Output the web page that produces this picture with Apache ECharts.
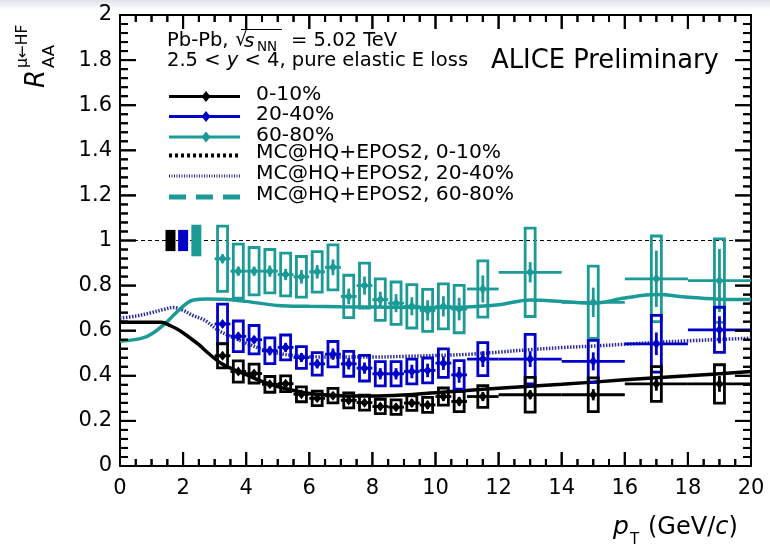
<!DOCTYPE html>
<html><head><meta charset="utf-8">
<script src="https://cdn.jsdelivr.net/npm/echarts@6/dist/echarts.min.js"></script>
<style>html,body{margin:0;padding:0;background:#fff}#c{width:770px;height:548px}</style>
</head><body><div id="c"></div>
<script>
// ---------------- data ----------------
const ptBins      = [3.25,3.75,4.25,4.75,5.25,5.75,6.25,6.75,7.25,7.75,8.25,8.75,9.25,9.75,10.25,10.75,11.5,13,15,17,19];
const ptHalfWidth = [0.25,0.25,0.25,0.25,0.25,0.25,0.25,0.25,0.25,0.25,0.25,0.25,0.25,0.25,0.25,0.25,0.5,1,1,1,1];

const raa0_10  = [0.489,0.419,0.410,0.362,0.365,0.318,0.300,0.312,0.291,0.281,0.264,0.261,0.279,0.271,0.308,0.286,0.308,0.316,0.316,0.364,0.364];
const sys0_10  = [0.054,0.047,0.042,0.035,0.035,0.033,0.032,0.032,0.033,0.033,0.032,0.032,0.032,0.033,0.038,0.045,0.048,0.077,0.075,0.077,0.085];
const stat0_10 = [0.012,0.010,0.010,0.010,0.012,0.012,0.012,0.015,0.015,0.015,0.015,0.015,0.018,0.018,0.020,0.020,0.020,0.020,0.025,0.030,0.035];

const raa20_40  = [0.630,0.575,0.560,0.511,0.526,0.481,0.453,0.496,0.453,0.434,0.409,0.409,0.419,0.424,0.456,0.404,0.474,0.474,0.464,0.542,0.604];
const sys20_40  = [0.088,0.068,0.063,0.057,0.055,0.048,0.050,0.056,0.055,0.057,0.054,0.054,0.055,0.055,0.063,0.063,0.073,0.110,0.093,0.126,0.100];
const stat20_40 = [0.015,0.015,0.015,0.020,0.020,0.020,0.020,0.025,0.025,0.025,0.025,0.025,0.030,0.030,0.030,0.035,0.035,0.035,0.040,0.050,0.060];

const raa60_80  = [0.919,0.864,0.864,0.864,0.849,0.839,0.861,0.881,0.752,0.800,0.738,0.722,0.708,0.690,0.708,0.696,0.785,0.859,0.726,0.830,0.822];
const sys60_80  = [0.145,0.120,0.105,0.096,0.095,0.090,0.090,0.100,0.094,0.100,0.092,0.094,0.096,0.093,0.100,0.105,0.125,0.196,0.160,0.190,0.185];
const stat60_80 = [0.020,0.020,0.020,0.025,0.025,0.030,0.030,0.035,0.035,0.040,0.035,0.040,0.040,0.045,0.045,0.050,0.060,0.045,0.065,0.125,0.140];

// MC@HQ+EPOS2 model curves
const model0_10X  = [0,1.3,1.6,1.9,2.2,2.5,2.8,3.2,3.6,4.0,4.5,5.0,5.5,6.0,7.0,8.0,9.0,10.0,11.0,12.0,14.0,16.0,18.0,20.0];
const model0_10Y  = [0.637,0.637,0.622,0.600,0.570,0.538,0.500,0.456,0.428,0.405,0.375,0.352,0.335,0.322,0.312,0.310,0.315,0.325,0.335,0.345,0.362,0.382,0.400,0.419];
const model20_40X = [0,0.5,1.0,1.4,1.7,2.0,2.3,2.7,3.1,3.5,4.0,4.5,5.0,5.5,6.0,7.0,8.0,9.0,10.0,11.0,12.0,13.0,14.0,15.0,16.0,17.0,18.0,19.0,20.0];
const model20_40Y = [0.656,0.665,0.680,0.695,0.703,0.690,0.668,0.645,0.603,0.575,0.545,0.518,0.500,0.490,0.485,0.483,0.483,0.486,0.490,0.495,0.505,0.516,0.525,0.532,0.540,0.548,0.555,0.561,0.567];
const model60_80X = [0,0.7,1.05,1.5,1.9,2.3,2.8,3.3,4.0,5.0,6.0,7.0,8.0,9.0,10.0,11.0,12.0,13.0,14.0,15.0,16.0,17.0,18.0,19.0,20.0];
const model60_80Y = [0.553,0.567,0.590,0.641,0.696,0.735,0.741,0.740,0.730,0.712,0.708,0.706,0.705,0.704,0.703,0.705,0.715,0.736,0.730,0.722,0.745,0.760,0.748,0.740,0.738];

// global normalisation uncertainty boxes around unity
const globalX   = [1.6, 2.0, 2.42];
const globalUnc = [0.047, 0.047, 0.070];

const refLineX = [0, 20];
const refLineY = [1, 1];

// tick positions (major ones carry the axis labels)
const xMajorTicks = [0,2,4,6,8,10,12,14,16,18,20];
const xMinorTicks = [0.5,1,1.5,2.5,3,3.5,4.5,5,5.5,6.5,7,7.5,8.5,9,9.5,10.5,11,11.5,12.5,13,13.5,14.5,15,15.5,16.5,17,17.5,18.5,19,19.5];
const yMajorTicks = [0,0.2,0.4,0.6,0.8,1,1.2,1.4,1.6,1.8,2];
const yMinorTicks = [0.04,0.08,0.12,0.16,0.24,0.28,0.32,0.36,0.44,0.48,0.52,0.56,0.64,0.68,0.72,0.76,0.84,0.88,0.92,0.96,
                     1.04,1.08,1.12,1.16,1.24,1.28,1.32,1.36,1.44,1.48,1.52,1.56,1.64,1.68,1.72,1.76,1.84,1.88,1.92,1.96];

const centralities = ['0-10%', '20-40%', '60-80%'];
const modelLabels  = ['MC@HQ+EPOS2, 0-10%', 'MC@HQ+EPOS2, 20-40%', 'MC@HQ+EPOS2, 60-80%'];

// ---------------- style ----------------
const C_BLACK = '#000000', C_BLUE = '#0000c8', C_TEAL = '#1b9a96', C_NAVY = '#2a2a9e';
const FF = '"DejaVu Sans", sans-serif';
const X_MIN = 0, X_MAX = 20, Y_MIN = 0, Y_MAX = 2;
const GRID = { left: 120, right: 19, top: 15, bottom: 82 };

function dataSeries(name, vals, sys, stat, color) {
  return {
    type: 'custom', name, xAxisIndex: 0, yAxisIndex: 0, z: 5,
    data: ptBins.map((x, i) => [x, vals[i], sys[i], stat[i], ptHalfWidth[i]]),
    renderItem(params, api) {
      const x = api.value(0), y = api.value(1), s = api.value(2), st = api.value(3), hw = api.value(4);
      const c = api.coord([x, y]);
      const top = api.coord([x, y + s])[1], bot = api.coord([x, y - s])[1];
      const left = api.coord([x - hw, y])[0], right = api.coord([x + hw, y])[0];
      const stT = api.coord([x, y + st])[1], stB = api.coord([x, y - st])[1];
      const bw = 10;
      return { type: 'group', children: [
        { type: 'rect', shape: { x: c[0] - bw / 2, y: top, width: bw, height: bot - top }, style: { fill: 'none', stroke: color, lineWidth: 2.8 } },
        { type: 'line', shape: { x1: left, y1: c[1], x2: right, y2: c[1] }, style: { stroke: color, lineWidth: 2.8 } },
        { type: 'line', shape: { x1: c[0], y1: stT, x2: c[0], y2: stB }, style: { stroke: color, lineWidth: 2.8 } },
        { type: 'polygon', shape: { points: [[c[0], c[1] - 5], [c[0] + 4, c[1]], [c[0], c[1] + 5], [c[0] - 4, c[1]]] }, style: { fill: color } }
      ]};
    }
  };
}

function modelSeries(name, xs, ys, color, type, width) {
  return {
    type: 'line', name, data: xs.map((x, i) => [x, ys[i]]), smooth: 0.35, showSymbol: false, z: 3,
    lineStyle: { color, width, type }, silent: true
  };
}

// frame ticks as a custom series: every item sits inside the axis ranges
const tickItems = [].concat(
  xMajorTicks.map(v => [v, Y_MIN, 0]), xMinorTicks.map(v => [v, Y_MIN, 1]),
  yMajorTicks.map(v => [X_MIN, v, 2]), yMinorTicks.map(v => [X_MIN, v, 3])
);
const tickSeries = {
  type: 'custom', name: 'frameTicks', xAxisIndex: 0, yAxisIndex: 0, z: 30, silent: true,
  data: tickItems,
  renderItem(params, api) {
    const xv = api.value(0), yv = api.value(1), kind = api.value(2);
    if (kind < 2) {
      const len = kind === 0 ? 14 : 7;
      const b = api.coord([xv, Y_MIN]), t = api.coord([xv, Y_MAX]);
      return { type: 'group', children: [
        { type: 'line', shape: { x1: b[0], y1: b[1], x2: b[0], y2: b[1] - len }, style: { stroke: '#000', lineWidth: 2 } },
        { type: 'line', shape: { x1: t[0], y1: t[1], x2: t[0], y2: t[1] + len }, style: { stroke: '#000', lineWidth: 2 } }
      ]};
    }
    const len = kind === 2 ? 16 : 8;
    const l = api.coord([X_MIN, yv]), r = api.coord([X_MAX, yv]);
    return { type: 'group', children: [
      { type: 'line', shape: { x1: l[0], y1: l[1], x2: l[0] + len, y2: l[1] }, style: { stroke: '#000', lineWidth: 2 } },
      { type: 'line', shape: { x1: r[0], y1: r[1], x2: r[0] - len, y2: r[1] }, style: { stroke: '#000', lineWidth: 2 } }
    ]};
  }
};

const globalColors = [C_BLACK, C_BLUE, C_TEAL];

function frameAxis(isX, position, showLabel) {
  return {
    type: 'value', position, min: isX ? X_MIN : Y_MIN, max: isX ? X_MAX : Y_MAX, interval: isX ? 2 : 0.2,
    axisLine: { show: true, onZero: false, lineStyle: { color: '#000', width: 2 } },
    axisTick: { show: false }, minorTick: { show: false }, splitLine: { show: false },
    axisLabel: { show: showLabel, color: '#000', fontFamily: FF, fontSize: 21, margin: isX ? 12 : 8,
      formatter: v => String(+v.toFixed(1)) }
  };
}

const chart = echarts.init(document.getElementById('c'), null, { renderer: 'canvas' });

function txt(x, y, text, size, extra) {
  return { type: 'text', x, y, silent: true, style: Object.assign({ text, fontSize: size, fontFamily: FF, fill: '#000', verticalAlign: 'middle' }, extra || {}) };
}

function buildGraphics(tickGraphics) {
  const g = [];
  g.push({ type: 'rect', shape: { x: 0, y: 0, width: 770, height: 10 }, silent: true, z: -10,
    style: { fill: new echarts.graphic.LinearGradient(0, 0, 0, 1, [{ offset: 0, color: '#dde2e8' }, { offset: 1, color: '#ffffff' }]) } });
  // header line 1
  g.push(txt(167, 41, 'Pb-Pb,', 19.5));
  g.push(txt(235, 40, '√', 20));
  g.push({ type: 'line', silent: true, shape: { x1: 241, y1: 29.5, x2: 282, y2: 29.5 }, style: { stroke: '#000', lineWidth: 1 } });
  g.push(txt(244, 42, 's', 20, { fontStyle: 'italic' }));
  g.push(txt(257, 47, 'NN', 13.5));
  g.push(txt(291, 41, '= 5.02 TeV', 19.5));
  // header line 2
  g.push({ type: 'text', x: 167, y: 61, silent: true, style: {
      text: '{n|2.5 < }{i|y}{n| < 4, pure elastic E loss}', verticalAlign: 'middle',
      rich: { n: { fontSize: 19.5, fontFamily: FF, fill: '#000' }, i: { fontSize: 19.5, fontFamily: FF, fontStyle: 'italic', fill: '#000' } } } });
  g.push(txt(491, 61, 'ALICE Preliminary', 25.8));
  // y axis title
  g.push({ type: 'text', x: 37, y: 88, rotation: Math.PI / 2, silent: true, style: { text: 'R', fontSize: 26, fontStyle: 'italic', fontFamily: FF, fill: '#000', align: 'left', verticalAlign: 'middle' } });
  g.push({ type: 'text', x: 23, y: 68, rotation: Math.PI / 2, silent: true, style: { text: 'μ←HF', fontSize: 15.5, fontFamily: FF, fill: '#000', align: 'left', verticalAlign: 'middle' } });
  g.push({ type: 'text', x: 50, y: 68, rotation: Math.PI / 2, silent: true, style: { text: 'AA', fontSize: 16.5, fontFamily: FF, fill: '#000', align: 'left', verticalAlign: 'middle' } });
  // x axis title
  g.push(txt(613, 527, 'p', 25, { fontStyle: 'italic' }));
  g.push(txt(630, 540, 'T', 15));
  g.push({ type: 'text', x: 648, y: 528, silent: true, style: {
      text: '{n|(GeV/}{i|c}{n|)}', verticalAlign: 'middle',
      rich: { n: { fontSize: 24, fontFamily: FF, fill: '#000' }, i: { fontSize: 24, fontFamily: FF, fontStyle: 'italic', fill: '#000' } } } });
  // legend
  const legendRowsY = [96.5, 116.5, 137, 155.5, 176, 197];
  const lx1 = 169, lx2 = 240, ltx = 256;
  const dataCols = [C_BLACK, C_BLUE, C_TEAL];
  for (let i = 0; i < 3; i++) {
    const y = legendRowsY[i];
    g.push({ type: 'line', shape: { x1: lx1, y1: y, x2: lx2, y2: y }, style: { stroke: dataCols[i], lineWidth: 3 } });
    g.push({ type: 'polygon', shape: { points: [[206, y - 5.5], [210.5, y], [206, y + 5.5], [201.5, y]] }, style: { fill: dataCols[i] } });
    g.push(txt(ltx, y - 1.5, centralities[i], 20.3));
  }
  const mStyles = [
    () => ({ stroke: C_BLACK, lineWidth: 4, lineDash: [3, 3] }),
    () => ({ stroke: C_NAVY, lineWidth: 3, lineDash: [1, 1.5] }),
    () => ({ stroke: C_TEAL, lineWidth: 5, lineDash: [17, 10] })
  ];
  for (let i = 0; i < 3; i++) {
    const y = legendRowsY[3 + i];
    g.push({ type: 'line', shape: { x1: lx1, y1: y, x2: lx2, y2: y }, style: mStyles[i]() });
    g.push(txt(ltx, y - 2.5, modelLabels[i], 20.3));
  }
  return g.concat(tickGraphics || []);
}

function buildOption(tickGraphics) {
  return {
    backgroundColor: '#ffffff',
    animation: false,
    grid: { left: GRID.left, right: GRID.right, top: GRID.top, bottom: GRID.bottom, containLabel: false },
    xAxis: [ frameAxis(true, 'bottom', true), frameAxis(true, 'top', false) ],
    yAxis: [ frameAxis(false, 'left', true), frameAxis(false, 'right', false) ],
    series: [
      { type: 'line', data: refLineX.map((x, i) => [x, refLineY[i]]), showSymbol: false, z: 1, silent: true,
        lineStyle: { color: '#000', width: 1, type: [4, 3] } },
      modelSeries('MC@HQ+EPOS2, 20-40%', model20_40X, model20_40Y, C_NAVY, [1.5, 1.5], 3.5),
      modelSeries('MC@HQ+EPOS2, 60-80%', model60_80X, model60_80Y, C_TEAL, 'solid', 3.5),
      modelSeries('MC@HQ+EPOS2, 0-10%', model0_10X, model0_10Y, C_BLACK, 'solid', 3.5),
      {
        type: 'custom', name: 'global', z: 4,
        data: globalX.map((x, i) => [x, 1, globalUnc[i], i]),
        renderItem(params, api) {
          const x = api.value(0), y = api.value(1), u = api.value(2), idx = api.value(3);
          const c = api.coord([x, y]);
          const t = api.coord([x, y + u])[1], b = api.coord([x, y - u])[1];
          return { type: 'rect', shape: { x: c[0] - 5, y: t, width: 10, height: b - t }, style: { fill: globalColors[idx] } };
        }
      },
      dataSeries('60-80%', raa60_80, sys60_80, stat60_80, C_TEAL),
      dataSeries('20-40%', raa20_40, sys20_40, stat20_40, C_BLUE),
      dataSeries('0-10%', raa0_10, sys0_10, stat0_10, C_BLACK),
      tickSeries
    ],
    graphic: { elements: buildGraphics(tickGraphics) }
  };
}

// first pass: lay out the axes
chart.setOption(buildOption([]));

// second pass: frame ticks placed through the chart's axis scales, full re-render
function toPx(x, y) {
  let p = null;
  try { p = chart.convertToPixel({ gridIndex: 0 }, [x, y]); } catch (e) { p = null; }
  if (!p || !isFinite(p[0]) || !isFinite(p[1])) {
    const w = 770 - GRID.left - GRID.right, h = 548 - GRID.top - GRID.bottom;
    p = [GRID.left + (x - X_MIN) / (X_MAX - X_MIN) * w, GRID.top + h - (y - Y_MIN) / (Y_MAX - Y_MIN) * h];
  }
  return p;
}
const tickGraphics = [];
function tickLine(x1, y1, x2, y2) {
  tickGraphics.push({ type: 'line', silent: true, z: 100, shape: { x1, y1, x2, y2 }, style: { stroke: '#000', lineWidth: 2 } });
}
xMajorTicks.forEach(v => { const b = toPx(v, Y_MIN), t = toPx(v, Y_MAX); tickLine(b[0], b[1], b[0], b[1] - 14); tickLine(t[0], t[1], t[0], t[1] + 14); });
xMinorTicks.forEach(v => { const b = toPx(v, Y_MIN), t = toPx(v, Y_MAX); tickLine(b[0], b[1], b[0], b[1] - 7); tickLine(t[0], t[1], t[0], t[1] + 7); });
yMajorTicks.forEach(v => { const l = toPx(X_MIN, v), r = toPx(X_MAX, v); tickLine(l[0], l[1], l[0] + 16, l[1]); tickLine(r[0], r[1], r[0] - 16, r[1]); });
yMinorTicks.forEach(v => { const l = toPx(X_MIN, v), r = toPx(X_MAX, v); tickLine(l[0], l[1], l[0] + 8, l[1]); tickLine(r[0], r[1], r[0] - 8, r[1]); });

chart.setOption(buildOption(tickGraphics), true);
</script>
</body></html>
